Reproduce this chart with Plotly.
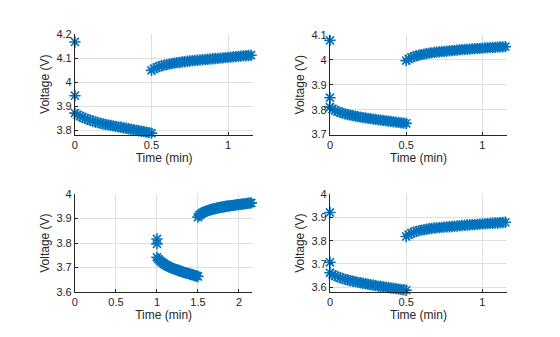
import plotly.graph_objects as go

# Logger samples once per second; times below are in seconds from cycle start
t_rest_s = list(range(0, 31))       # rest phase
t_charge_s = list(range(30, 70))    # charge phase

# Cell 1
c1_spike_t = [0.0, 0.0]
c1_spike_v = [4.167, 3.944]
c1_rest_v = [3.872, 3.865, 3.859, 3.855, 3.850, 3.846, 3.842, 3.839, 3.835, 3.833,
             3.830, 3.827, 3.825, 3.823, 3.821, 3.819, 3.817, 3.815, 3.813, 3.811,
             3.809, 3.807, 3.805, 3.803, 3.801, 3.799, 3.797, 3.795, 3.793, 3.791,
             3.789]
c1_charge_v = [4.049, 4.056, 4.061, 4.065, 4.068, 4.071, 4.073, 4.075, 4.077, 4.079,
               4.081, 4.082, 4.084, 4.085, 4.087, 4.088, 4.089, 4.090, 4.091, 4.092,
               4.093, 4.094, 4.095, 4.096, 4.097, 4.098, 4.099, 4.100, 4.101, 4.102,
               4.103, 4.104, 4.105, 4.106, 4.107, 4.108, 4.109, 4.110, 4.111, 4.112]

# Cell 2
c2_spike_t = [0.0, 0.0]
c2_spike_v = [4.078, 3.848]
c2_rest_v = [3.810, 3.803, 3.797, 3.793, 3.789, 3.786, 3.783, 3.780, 3.778, 3.776,
             3.774, 3.772, 3.770, 3.768, 3.767, 3.765, 3.764, 3.762, 3.761, 3.759,
             3.758, 3.757, 3.755, 3.754, 3.753, 3.751, 3.750, 3.749, 3.747, 3.746,
             3.745]
c2_charge_v = [3.997, 4.004, 4.009, 4.013, 4.016, 4.019, 4.021, 4.023, 4.025, 4.027,
               4.028, 4.030, 4.031, 4.032, 4.033, 4.034, 4.035, 4.036, 4.037, 4.038,
               4.039, 4.040, 4.041, 4.042, 4.042, 4.043, 4.044, 4.045, 4.045, 4.046,
               4.047, 4.048, 4.048, 4.049, 4.050, 4.050, 4.051, 4.052, 4.052, 4.053]

# Cell 3 (cycle starts one minute later)
c3_offset_s = 60
c3_spike_t = [0.0, 1.0, 1.0]
c3_spike_v = [4.003, 3.817, 3.797]
c3_rest_v = [3.742, 3.735, 3.729, 3.724, 3.720, 3.716, 3.712, 3.709, 3.706, 3.703,
             3.700, 3.698, 3.696, 3.694, 3.692, 3.690, 3.688, 3.686, 3.684, 3.682,
             3.680, 3.679, 3.677, 3.676, 3.674, 3.672, 3.671, 3.669, 3.667, 3.666,
             3.664]
c3_charge_v = [3.906, 3.913, 3.918, 3.922, 3.925, 3.928, 3.930, 3.932, 3.934, 3.936,
               3.937, 3.939, 3.940, 3.941, 3.943, 3.944, 3.945, 3.946, 3.947, 3.948,
               3.949, 3.950, 3.951, 3.952, 3.953, 3.953, 3.954, 3.955, 3.956, 3.957,
               3.957, 3.958, 3.959, 3.960, 3.960, 3.961, 3.962, 3.963, 3.963, 3.964]

# Cell 4
c4_spike_t = [0.0, 0.0]
c4_spike_v = [3.921, 3.707]
c4_rest_v = [3.662, 3.655, 3.649, 3.645, 3.641, 3.637, 3.634, 3.631, 3.628, 3.626,
             3.624, 3.621, 3.619, 3.617, 3.615, 3.613, 3.611, 3.609, 3.607, 3.605,
             3.604, 3.602, 3.600, 3.599, 3.597, 3.596, 3.594, 3.592, 3.591, 3.589,
             3.587]
c4_charge_v = [3.818, 3.826, 3.832, 3.836, 3.840, 3.843, 3.845, 3.847, 3.849, 3.851,
               3.852, 3.854, 3.855, 3.856, 3.857, 3.858, 3.859, 3.860, 3.861, 3.862,
               3.863, 3.864, 3.865, 3.866, 3.867, 3.868, 3.868, 3.869, 3.870, 3.871,
               3.872, 3.872, 3.873, 3.874, 3.875, 3.876, 3.876, 3.877, 3.878, 3.879]

# Axis tick positions
x_ticks_short = [0, 0.5, 1]
x_ticks_long = [0, 0.5, 1, 1.5, 2]
y_ticks = {
    1: [3.8, 3.9, 4.0, 4.1, 4.2],
    2: [3.7, 3.8, 3.9, 4.0, 4.1],
    3: [3.6, 3.7, 3.8, 3.9, 4.0],
    4: [3.6, 3.7, 3.8, 3.9, 4.0],
}

BLUE = "#0072BD"
AX = "#262626"
GRID = "#dfdfdf"
FONT = "Liberation Sans, Arial, sans-serif"

W, H = 560, 337


def to_min(seconds, offset=0):
    return [(s + offset) / 60 for s in seconds]


panels = [
    # (spike t, spike v, rest t, rest v, charge t, charge v, x range, y range, x ticks, px box)
    (c1_spike_t, c1_spike_v, to_min(t_rest_s), c1_rest_v, to_min(t_charge_s), c1_charge_v,
     [0, 1.165], [3.783, 4.2], x_ticks_short, (72.3, 251.7, 29, 133.3)),
    (c2_spike_t, c2_spike_v, to_min(t_rest_s), c2_rest_v, to_min(t_charge_s), c2_charge_v,
     [0, 1.161], [3.7, 4.1], x_ticks_short, (328.7, 506.7, 30, 133.3)),
    (c3_spike_t, c3_spike_v, to_min(t_rest_s, c3_offset_s), c3_rest_v,
     to_min(t_charge_s, c3_offset_s), c3_charge_v,
     [0, 2.163], [3.6, 4.0], x_ticks_long, (72.3, 250.7, 195, 296.7)),
    (c4_spike_t, c4_spike_v, to_min(t_rest_s), c4_rest_v, to_min(t_charge_s), c4_charge_v,
     [0, 1.161], [3.579, 4.0], x_ticks_short, (328.7, 506.7, 195, 296.7)),
]


def fmt(v):
    s = f"{v:.1f}"
    return s[:-2] if s.endswith(".0") else s


fig = go.Figure()
layout = {}
for i, (st, sv, rt, rv, ct, cv, xr, yr, xt, box) in enumerate(panels, start=1):
    xa = "x" if i == 1 else f"x{i}"
    ya = "y" if i == 1 else f"y{i}"
    fig.add_trace(go.Scatter(
        x=st + rt + ct, y=sv + rv + cv, mode="markers", xaxis=xa, yaxis=ya,
        cliponaxis=False, showlegend=False,
        marker=dict(symbol="asterisk-open", size=9.5, color=BLUE,
                    line=dict(color=BLUE, width=1.6)),
    ))
    x0, x1, ytop, ybot = box
    xkey = "xaxis" if i == 1 else f"xaxis{i}"
    ykey = "yaxis" if i == 1 else f"yaxis{i}"
    common = dict(
        showline=True, linecolor=AX, linewidth=1, mirror=False,
        ticks="inside", ticklen=3, tickcolor=AX,
        showgrid=True, gridcolor=GRID, gridwidth=1, zeroline=False,
        tickfont=dict(family=FONT, size=11, color=AX),
    )
    layout[xkey] = dict(
        domain=[x0 / W, x1 / W], anchor=ya, range=xr,
        tickvals=xt, ticktext=[fmt(v) for v in xt],
        title=dict(text="Time (min)", font=dict(family=FONT, size=12, color=AX), standoff=3),
        **common,
    )
    layout[ykey] = dict(
        domain=[1 - ybot / H, 1 - ytop / H], anchor=xa, range=yr,
        tickvals=y_ticks[i], ticktext=[fmt(v) for v in y_ticks[i]],
        title=dict(text="Voltage (V)", font=dict(family=FONT, size=12, color=AX), standoff=4),
        **common,
    )

fig.update_layout(
    width=W, height=H,
    margin=dict(l=0, r=0, t=0, b=0),
    paper_bgcolor="white", plot_bgcolor="white",
    **layout,
)

fig.write_html("out.html")
